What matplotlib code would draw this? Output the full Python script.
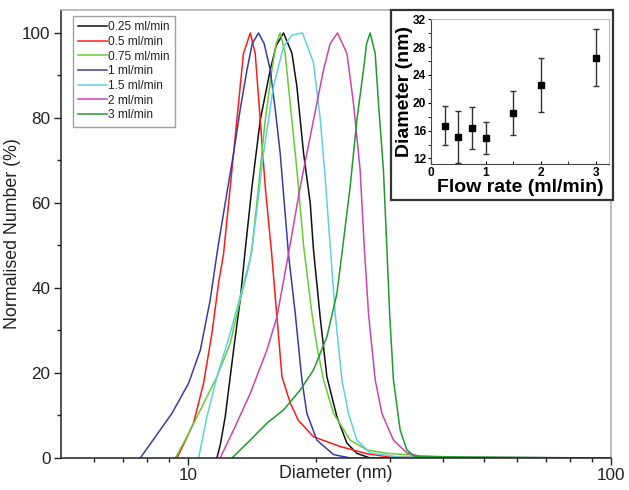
import matplotlib
matplotlib.use("Agg")
import matplotlib.pyplot as plt
from matplotlib.ticker import FixedLocator, NullFormatter, MultipleLocator
from matplotlib.patches import Rectangle

plt.rcParams['font.family'] = ['Liberation Sans', 'DejaVu Sans']

# ---- main chart data: size distributions (diameter nm, normalised number %) ----
labels = ['0.25 ml/min', '0.5 ml/min', '0.75 ml/min', '1 ml/min',
          '1.5 ml/min', '2 ml/min', '3 ml/min']
colors = ['#111111', '#ff1a1a', '#66cc33', '#3b3ba8', '#5fd0e0', '#cc44b0', '#1f9a2f']

d_025 = [11.69, 11.90, 12.23, 12.80, 13.27, 13.64, 14.15, 14.80, 15.63, 16.14, 16.80,
         17.59, 18.07, 18.74, 19.43, 19.78, 20.51, 21.28, 22.47, 23.73, 25.05, 26.93, 100]
n_025 = [0, 3, 9.7, 25.4, 37.2, 49, 63.8, 79.5, 91.3, 97, 100,
         95.2, 87.4, 71.7, 60, 49, 33.2, 19.1, 9.7, 3.5, 1.1, 0, 0]

d_05 = [9.40, 9.84, 10.29, 10.87, 11.38, 11.79, 12.12, 12.57, 13.03, 13.51, 14.02,
        14.40, 14.80, 15.21, 15.77, 16.21, 16.66, 17.42, 18.20, 19.78, 22.87, 26.46,
        30.03, 100]
n_05 = [0, 4, 8.2, 17.6, 29.4, 41, 48, 63.8, 79.5, 95.2, 100,
        95.2, 79.5, 63.8, 47.5, 33.2, 19.1, 13, 8.9, 5, 2.7, 1,
        0.2, 0]

d_075 = [9.32, 9.93, 10.68, 11.69, 12.57, 13.27, 13.89, 14.15, 14.66, 15.21, 15.77,
         16.14, 16.50, 16.95, 17.42, 18.07, 18.74, 19.17, 19.61, 20.18, 20.89, 22.06,
         24.15, 26.46, 29.49, 34.72, 46.42, 100]
n_075 = [0, 5, 11.3, 19.1, 27, 37.2, 45, 49, 63.8, 79.5, 91.3,
         97.5, 100, 95.2, 83.5, 67.8, 50, 42, 34, 26, 18.4, 10.5,
         4.2, 1.9, 1.1, 0.6, 0, 0]

d_1 = [7.70, 8.36, 9.15, 10.02, 10.68, 11.27, 11.73, 12.23, 12.80, 13.27, 13.77,
       14.17, 14.66, 15.12, 15.63, 16.06, 16.50, 16.87, 17.26, 17.91, 18.57, 19.08,
       20.15, 22.06, 24.15, 100]
n_1 = [0, 5, 10.5, 17.6, 25.4, 37.2, 49, 60, 71.7, 82, 91.3,
       97.5, 100, 97.5, 91.3, 82, 71.7, 60, 48, 34, 18.4, 10.5,
       4.2, 0.8, 0, 0]

d_15 = [10.58, 11.07, 11.69, 12.57, 13.27, 14.02, 14.48, 15.07, 15.91, 16.80, 17.61,
        18.63, 19.78, 20.51, 21.08, 21.66, 22.26, 23.09, 23.93, 25.05, 26.93, 31.71, 100]
n_15 = [0, 9.7, 19.1, 29.4, 38, 47, 57, 71.7, 87.4, 96.8, 99.5,
        100, 93, 80, 66, 50, 34, 18.4, 10.5, 4.2, 1.2, 0.2, 0]

d_2 = [11.90, 12.30, 12.80, 14.02, 15.35, 16.21, 17.26, 18.40, 19.78, 20.89, 21.66,
       22.54, 23.73, 24.59, 25.50, 26.07, 26.69, 27.68, 28.71, 30.57, 32.89, 36.33, 100]
n_2 = [0, 3, 6.6, 15.2, 25.4, 33.2, 48, 63.8, 79.5, 91.3, 97.5,
       100, 95.2, 83.5, 67.8, 50, 34, 18.4, 10.5, 4.2, 1.2, 0, 0]

d_3 = [12.69, 13.27, 14.02, 15.35, 16.80, 18.40, 19.78, 21.28, 22.47, 23.09, 24.15,
       25.05, 25.97, 26.42, 26.93, 27.68, 28.18, 28.95, 29.49, 29.95, 30.57, 31.71,
       32.89, 34.40, 100]
n_3 = [0, 1.9, 4.2, 8.2, 11.3, 16, 20.7, 28.5, 38.7, 48, 63.8,
       79.5, 91.3, 97.5, 100, 95.2, 83.5, 67.8, 49.7, 34, 18.4, 6.6,
       1.9, 0.3, 0]

diam_series = [d_025, d_05, d_075, d_1, d_15, d_2, d_3]
num_series = [n_025, n_05, n_075, n_1, n_15, n_2, n_3]

# ---- inset data ----
flow_rate = [0.25, 0.5, 0.75, 1.0, 1.5, 2.0, 3.0]
mean_diam = [16.7, 15.1, 16.4, 14.9, 18.5, 22.6, 26.5]
diam_err = [2.78, 3.69, 3.03, 2.32, 3.15, 3.88, 4.13]

fig = plt.figure(figsize=(6.29, 4.90), dpi=100)
ax = fig.add_axes([61/629, 32/490, 550/629, 448/490])

for d, n, c, lab in zip(diam_series, num_series, colors, labels):
    ax.plot(d, n, color=c, lw=1.1, label=lab)

ax.set_xscale('log')
ax.set_xlim(5, 100)
ax.set_ylim(0, 105.4)
ax.xaxis.set_major_locator(FixedLocator([10, 100]))
ax.xaxis.set_minor_locator(FixedLocator([6, 7, 8, 9, 20, 30, 40, 50, 60, 70, 80, 90]))
ax.xaxis.set_minor_formatter(NullFormatter())
ax.set_xticklabels(['10', '100'])
ax.yaxis.set_major_locator(MultipleLocator(20))
ax.yaxis.set_minor_locator(MultipleLocator(10))
ax.tick_params(which='major', direction='out', length=5, width=1, labelsize=12.3,
               colors='#222222', pad=2.5)
ax.tick_params(which='minor', direction='out', length=3, width=1, colors='#222222')
ax.set_xlabel('Diameter (nm)', fontsize=12.8, color='#222222')
ax.set_ylabel('Normalised Number (%)', fontsize=12.8, color='#222222')
ax.xaxis.set_label_coords(0.5, -0.016)
ax.yaxis.set_label_coords(-40/550, 0.5)
for s in ['left', 'bottom']:
    ax.spines[s].set_color('#222222')
    ax.spines[s].set_linewidth(1.1)
for s in ['top', 'right']:
    ax.spines[s].set_color('#aaaaaa')
    ax.spines[s].set_linewidth(1.1)

leg = ax.legend(loc='upper left', bbox_to_anchor=(12/550, 1 - 6/448), fontsize=8.6,
                handlelength=2.4, handletextpad=0.1, labelspacing=0.22,
                borderpad=0.45, borderaxespad=0, frameon=True, fancybox=False)
leg.get_frame().set_edgecolor('#888888')
leg.get_frame().set_linewidth(1.0)
for t in leg.get_texts():
    t.set_color('#222222')

# ---- inset ----
box = Rectangle((391/629, (490-200)/490), 222/629, 190/490, transform=fig.transFigure,
                facecolor='white', edgecolor='#333333', lw=1.6, zorder=5)
fig.patches.append(box)

ins = fig.add_axes([431/629, (490-164)/490, 178/629, 144.7/490], zorder=6)
ins.errorbar(flow_rate, mean_diam, yerr=diam_err, fmt='s', color='black', ms=4.5,
             ecolor='#333333', elinewidth=1.0, capsize=2, capthick=1.0)
ins.set_xlim(0, 3.24)
ins.set_ylim(11.2, 32)
ins.xaxis.set_major_locator(MultipleLocator(1))
ins.xaxis.set_minor_locator(MultipleLocator(0.5))
ins.yaxis.set_major_locator(MultipleLocator(4))
ins.yaxis.set_minor_locator(MultipleLocator(2))
ins.tick_params(axis='x', which='both', direction='in', length=2.5, pad=2)
ins.tick_params(axis='y', which='both', direction='out', length=2.5, pad=1)
for lab in ins.get_xticklabels() + ins.get_yticklabels():
    lab.set_fontweight('bold')
    lab.set_fontsize(8.6)
ins.set_xlabel('Flow rate (ml/min)', fontsize=14, fontweight='bold', labelpad=0)
ins.set_ylabel('Diameter (nm)', fontsize=14, fontweight='bold', labelpad=0)
for s in ['left', 'bottom']:
    ins.spines[s].set_color('#444444')
for s in ['top', 'right']:
    ins.spines[s].set_color('#bbbbbb')

fig.savefig('out.png', dpi=100)
